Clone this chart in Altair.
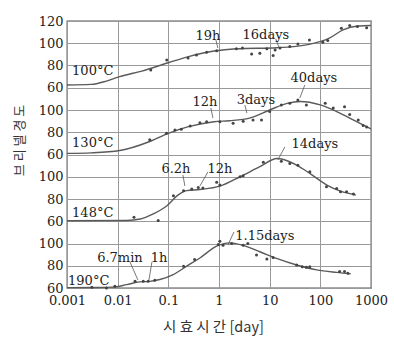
import altair as alt
import pandas as pd

# ---- data (t in days, Brinell hardness) ----
series_names = ["100°C", "130°C", "148°C", "190°C"]
series_offset = [3, 2, 1, 0]  # panel index from the bottom

curve_t = {
    "100°C": [0.001, 0.003, 0.006, 0.011, 0.03, 0.1, 0.25, 0.8, 2.2, 14, 60, 150, 280, 550, 1000],
    "130°C": [0.001, 0.003, 0.011, 0.043, 0.1, 0.25, 0.8, 1.6, 4, 10, 22, 40, 100, 210, 380, 1000],
    "148°C": [0.001, 0.015, 0.028, 0.05, 0.094, 0.15, 0.23, 0.42, 1.04, 2.6, 6.4, 14, 17, 34, 62, 135, 250, 500],
    "190°C": [0.001, 0.004, 0.008, 0.015, 0.027, 0.043, 0.068, 0.125, 0.23, 0.42, 0.9, 1.65, 2.9, 6.4, 13.7, 34, 85, 210, 400],
}
curve_v = {
    "100°C": [62.5, 63, 66, 70, 75, 82.5, 88, 93, 95, 96, 99, 104.5, 112, 115.5, 116],
    "130°C": [61, 61.5, 63.6, 71.7, 79, 85, 89.5, 90.4, 92.7, 100, 106, 107.7, 104.6, 98.6, 92.7, 83],
    "148°C": [60.5, 60.7, 62, 66.6, 74, 83, 87.5, 88.5, 91.5, 100, 109, 116.4, 116, 110.5, 103, 92.5, 87, 83.6],
    "190°C": [60.3, 60.4, 60.8, 63, 65.5, 66, 67.6, 72, 79.6, 87, 97.6, 100.6, 98.5, 92.6, 86.6, 80.7, 76.3, 74, 72.7],
}
point_t = {
    "100°C": [0.045, 0.093, 0.245, 0.36, 0.57, 0.9, 2.2, 2.9, 4.4, 6.4, 8.8, 11.7, 12.8, 16, 25, 36, 61, 112, 140, 260, 380, 540, 820],
    "130°C": [0.043, 0.092, 0.135, 0.18, 0.27, 0.42, 0.57, 1.04, 1.9, 3.0, 4.7, 6.9, 10, 17, 25, 36, 53, 125, 180, 300, 380, 560, 700, 820],
    "148°C": [0.021, 0.063, 0.126, 0.2, 0.29, 0.39, 0.48, 0.9, 1.04, 2.6, 3.0, 7.5, 17, 25, 36, 62, 132, 210, 250, 330, 450],
    "190°C": [0.0031, 0.006, 0.0088, 0.022, 0.032, 0.04, 0.054, 0.2, 0.33, 0.97, 1.04, 1.2, 1.78, 3, 3.7, 5.5, 8.8, 11.7, 34, 44, 53, 62, 240, 300, 350],
}
point_v = {
    "100°C": [76, 85, 86.8, 89.5, 91.8, 93.3, 95, 95.8, 90.3, 91, 95, 89, 94, 95.7, 97, 99.4, 103, 101, 102.5, 113.4, 116, 115, 114],
    "130°C": [73.2, 79, 82, 82.6, 85.6, 88.6, 89.5, 89.5, 88, 90, 91, 91, 98.6, 104.6, 106, 109, 104.6, 106, 101.8, 103, 96, 91, 86, 84.7],
    "148°C": [63.6, 60.6, 83, 87.5, 89, 90.4, 90, 95, 92.5, 100, 101, 113, 114, 112, 110.4, 104.5, 91, 89.5, 86.6, 86.6, 84.5],
    "190°C": [60.7, 60, 61.5, 66, 66, 66, 67, 79.6, 85.6, 99, 102, 98.5, 100, 98.5, 100, 89.6, 86, 87.5, 80.7, 79.2, 78.6, 79.2, 74.8, 74.8, 73.3],
}

# series labels (left aligned)
label_t = [0.00126, 0.00126, 0.00126, 0.00105]
label_v = [71.5, 66.7, 63.8, 62.7]

# annotations
ann_text = ["19h", "16days", "12h", "3days", "40days", "6.2h", "12h", "14days", "6.7min", "1h", "1.15days"]
ann_series = ["100°C", "100°C", "130°C", "130°C", "130°C", "148°C", "148°C", "148°C", "190°C", "190°C", "190°C"]
ann_t = [0.604, 8.4, 0.527, 5.35, 74.5, 0.141, 1.04, 78, 0.0111, 0.0653, 8.04]
ann_v = [102.9, 103.8, 103.6, 105.4, 125.2, 103.4, 103.4, 125.8, 83.4, 83.4, 103.1]
lead_t1 = [0.87, 13.2, 0.69, 3.24, 49.4, 0.194, 0.604, 19.9, 0.0175, 0.0475, 1.97]
lead_v1 = [102.9, 103.8, 101.8, 104.5, 122.5, 101.6, 104.3, 126.7, 83.4, 83.4, 110.3]
lead_t2 = [0.95, 15.2, 0.76, 3.55, 39.4, 0.212, 0.42, 14.5, 0.0251, 0.0414, 1.5]
lead_v2 = [95.7, 96.6, 92.8, 97.3, 110.8, 91.7, 91.7, 115.1, 67.2, 67.2, 98.7]

x_ticks = [0.001, 0.01, 0.1, 1, 10, 100, 1000]
y_ticks = list(range(0, 241, 20))

# ---- tables ----
off = dict(zip(series_names, series_offset))
curves = pd.DataFrame([
    {"s": s, "k": off[s], "t": t, "v": v}
    for s in series_names for t, v in zip(curve_t[s], curve_v[s])
])
points = pd.DataFrame([
    {"s": s, "k": off[s], "t": t, "v": v}
    for s in series_names for t, v in zip(point_t[s], point_v[s])
])
labels = pd.DataFrame({"s": series_names, "k": series_offset, "t": label_t, "v": label_v})
anns = pd.DataFrame({"txt": ann_text, "k": [off[s] for s in ann_series], "t": ann_t, "v": ann_v,
                     "t1": lead_t1, "v1": lead_v1, "t2": lead_t2, "v2": lead_v2})

serif = "DejaVu Serif"
xscale = alt.Scale(type="log", domain=[0.001, 1000], nice=False)
yscale = alt.Scale(domain=[0, 240], nice=False, zero=False)
xaxis = alt.Axis(values=x_ticks, format="~g", title="시 효 시 간 [day]", grid=True,
                 gridColor="#999999", gridWidth=1, tickSize=0, domain=False, labelFlush=False,
                 labelPadding=6, labelFont=serif, labelFontSize=13, labelColor="#222222",
                 titleFont="Noto Sans CJK KR", titleFontSize=14.5, titleFontWeight="normal",
                 titleColor="#333333", titlePadding=13, titleX=146)
yaxis = alt.Axis(values=y_ticks, title="브 리 넬 경 도", grid=True, gridColor="#999999", gridWidth=1,
                 tickSize=0, domain=False, labelFlush=False, labelPadding=4,
                 labelExpr="datum.value == 240 ? '120' : '' + (60 + datum.value % 60)",
                 labelFont=serif, labelFontSize=13, labelColor="#222222",
                 titleFont="Noto Sans CJK KR", titleFontSize=13, titleFontWeight="normal",
                 titleColor="#333333", titlePadding=12, titleY=119)

X = alt.X("t:Q", scale=xscale, axis=xaxis)
Y = alt.Y("u:Q", scale=yscale, axis=yaxis)
ucalc = "datum.v - 60 + 60 * datum.k"

line = alt.Chart(curves).transform_calculate(u=ucalc).mark_line(
    interpolate="monotone", color="#5a5a5a", strokeWidth=1.4
).encode(x=X, y=Y, detail="s:N")

dots = alt.Chart(points).transform_calculate(u=ucalc).mark_circle(
    size=9, color="#444444", opacity=1
).encode(x=X, y=Y)

lab = alt.Chart(labels).transform_calculate(u=ucalc).mark_text(
    align="left", baseline="alphabetic", font=serif, fontSize=13, color="#222222"
).encode(x=X, y=Y, text="s:N")

txt = alt.Chart(anns).transform_calculate(u=ucalc).mark_text(
    align="center", baseline="alphabetic", font=serif, fontSize=13, color="#222222"
).encode(x=X, y=Y, text="txt:N")

lead = alt.Chart(anns).transform_calculate(
    u="datum.v1 - 60 + 60 * datum.k", u2="datum.v2 - 60 + 60 * datum.k"
).mark_rule(color="#555555", strokeWidth=0.8).encode(
    x=alt.X("t1:Q", scale=xscale, axis=xaxis), x2="t2:Q",
    y=Y, y2="u2:Q"
)

chart = alt.layer(line, dots, lead, lab, txt).properties(
    width=304, height=267,
    autosize=alt.AutoSizeParams(type="none"),
    padding={"left": 67, "top": 21, "right": 23, "bottom": 60},
    background="white",
).configure_view(stroke="#555555", strokeWidth=1.3)

chart.save("out.html", embed_options={"renderer": "svg", "actions": False})
